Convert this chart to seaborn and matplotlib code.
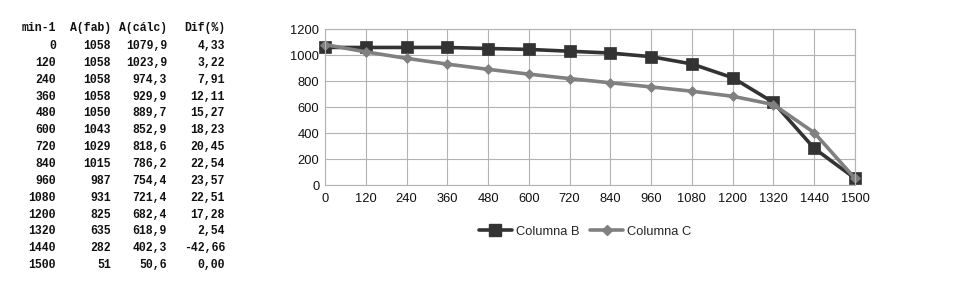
import matplotlib
matplotlib.use("Agg")
import matplotlib.pyplot as plt
import seaborn as sns
import pandas as pd
import numpy as np

rpm = [0, 120, 240, 360, 480, 600, 720, 840, 960, 1080, 1200, 1320, 1440, 1500]
a_fab = [1058, 1058, 1058, 1058, 1050, 1043, 1029, 1015, 987, 931, 825, 635, 282, 51]
a_calc = [1079.9, 1023.9, 974.3, 929.9, 889.7, 852.9, 818.6, 786.2, 754.4, 721.4, 682.4, 618.9, 402.3, 50.6]
dif = ["4,33", "3,22", "7,91", "12,11", "15,27", "18,23", "20,45", "22,54", "23,57", "22,51", "17,28", "2,54", "-42,66", "0,00"]
headers = ["min-1", "A(fab)", "A(cálc)", "Dif(%)"]
series_names = ["Columna B", "Columna C"]
yticks = [0, 200, 400, 600, 800, 1000, 1200]

sns.set_theme(style="white")
plt.rcParams['font.family'] = ['Liberation Sans', 'DejaVu Sans']

fig = plt.figure(figsize=(9.63, 2.97), dpi=100)
W, H = 963, 297

# table
col_right = [56, 111, 167, 225]
mono = ['Liberation Mono', 'DejaVu Sans Mono']
for j, h in enumerate(headers):
    fig.text(col_right[j] / W, 1 - 28 / H, h, ha='right', va='center',
             family=mono, fontsize=8.3, fontweight='bold', color='#111111')
for i in range(len(rpm)):
    y = 46 + i * 16.85
    vals = [str(rpm[i]), str(a_fab[i]), f"{a_calc[i]:.1f}".replace('.', ','), dif[i]]
    for j, v in enumerate(vals):
        fig.text(col_right[j] / W, 1 - y / H, v, ha='right', va='center',
                 family=mono, fontsize=8.3, fontweight='bold', color='#111111')

ax = fig.add_axes([325 / W, 1 - 185 / H, (855 - 325) / W, (185 - 29) / H])
idx = list(range(len(rpm)))
df = pd.DataFrame({
    "pos": idx * 2,
    "val": a_fab + a_calc,
    "serie": [series_names[0]] * len(rpm) + [series_names[1]] * len(rpm),
})
sns.lineplot(data=df, x="pos", y="val", hue="serie", style="serie",
             palette={series_names[0]: "#333333", series_names[1]: "#808080"},
             markers={series_names[0]: "s", series_names[1]: "D"},
             dashes=False, linewidth=2.6, markeredgewidth=0.5,
             ax=ax, legend=False, sort=False)
for ln, ms, ec in zip(ax.lines, [8, 5], ["#333333", "#808080"]):
    ln.set_markersize(ms)
    ln.set_markeredgecolor(ec)
    ln.set_clip_on(False)
ax.set_xlim(0, len(rpm) - 1)
ax.set_ylim(0, 1200)
ax.set_xticks(idx)
ax.set_xticklabels([str(r) for r in rpm])
ax.set_yticks(yticks)
ax.set_xlabel("")
ax.set_ylabel("")
ax.grid(True, color="#b3b3b3", linewidth=0.8)
ax.set_axisbelow(True)
for s in ax.spines.values():
    s.set_color("#b3b3b3")
    s.set_linewidth(0.8)
ax.tick_params(axis='both', length=0, labelsize=9.3, colors='#111111', pad=4)
ax.tick_params(axis='x', pad=6)

from matplotlib.lines import Line2D
handles = [Line2D([], [], color="#333333", lw=2.6, marker="s", markersize=8),
           Line2D([], [], color="#808080", lw=2.6, marker="D", markersize=5)]
fig.legend(handles, series_names, loc='center', bbox_to_anchor=(585 / W, 1 - 232 / H),
           ncol=2, frameon=False, fontsize=9.3, handlelength=2.6, columnspacing=0.8,
           handletextpad=0.3)

fig.savefig("out.png", dpi=100)
